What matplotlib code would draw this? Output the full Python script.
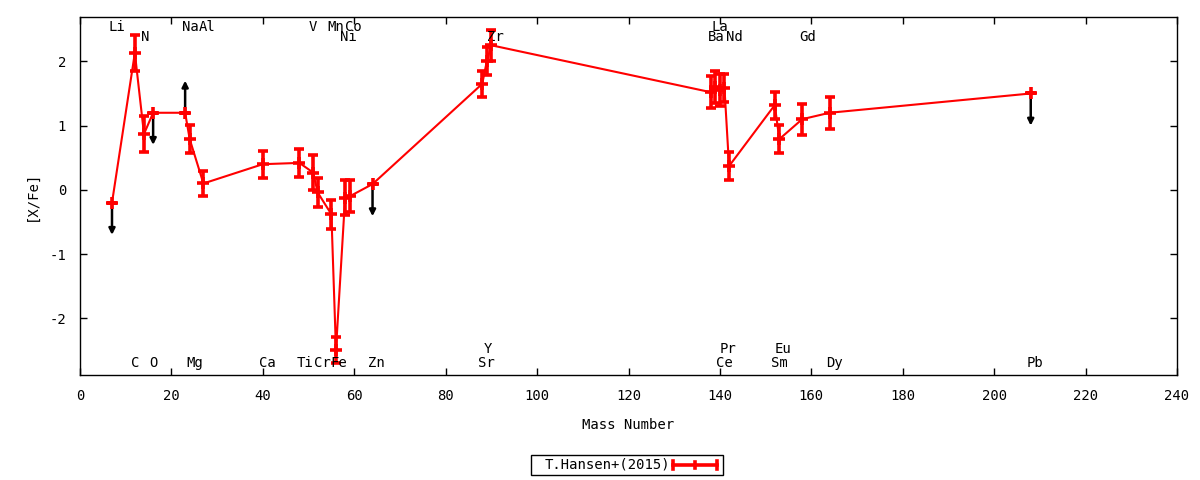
import numpy as np
import matplotlib
matplotlib.use("Agg")
import matplotlib.pyplot as plt
from matplotlib.patches import Rectangle
from matplotlib.lines import Line2D

plt.rcParams["font.family"] = ["DejaVu Sans Mono"]
plt.rcParams["font.size"] = 10
plt.rcParams["axes.unicode_minus"] = False

# abundance pattern, sorted by mass number
elements = ["Li", "C", "N", "O", "Na", "Mg", "Al", "Ca", "Ti", "V", "Cr", "Mn", "Fe",
            "Ni", "Co", "Zn", "Sr", "Y", "Zr", "Ba", "La", "Ce", "Pr", "Nd",
            "Sm", "Eu", "Gd", "Dy", "Pb"]
mass = [7, 12, 14, 16, 23, 24, 27, 40, 48, 51, 52, 55, 56,
        58, 59, 64, 88, 89, 90, 138, 139, 140, 141, 142,
        152, 153, 158, 164, 208]
xfe = [-0.20, 2.13, 0.87, 1.20, 1.20, 0.79, 0.10, 0.40, 0.42, 0.27, -0.04, -0.38, -2.49,
       -0.12, -0.10, 0.09, 1.65, 2.00, 2.25, 1.52, 1.60, 1.55, 1.58, 0.37,
       1.32, 0.79, 1.10, 1.20, 1.50]
xfe_err = [0.0, 0.28, 0.28, 0.0, 0.0, 0.22, 0.20, 0.21, 0.22, 0.27, 0.22, 0.23, 0.20,
           0.27, 0.25, 0.0, 0.20, 0.22, 0.24, 0.25, 0.25, 0.25, 0.22, 0.22,
           0.21, 0.22, 0.24, 0.25, 0.0]
# -1 upper limit, +1 lower limit, 0 detection
limit = [-1, 0, 0, -1, 1, 0, 0, 0, 0, 0, 0, 0, 0,
         0, 0, -1, 0, 0, 0, 0, 0, 0, 0, 0,
         0, 0, 0, 0, -1]
arrow_len = 0.5

# element name labels: x position and row (t1/t2 top, b1/b2 bottom)
label_x = [8.1, 12.1, 14.3, 16.1, 24.1, 25.2, 27.8, 40.9, 49.2, 51.0, 53.1, 56.0, 56.6,
           58.8, 59.7, 64.9, 89.0, 89.2, 90.9, 139.2, 140.1, 140.9, 141.8, 143.1,
           153.0, 153.8, 159.1, 165.0, 208.9]
label_row = ["t1", "b1", "t2", "b1", "t1", "b1", "t1", "b1", "b1", "t1", "b1", "t1", "b1",
             "t2", "t1", "b1", "b1", "b2", "t2", "t2", "t1", "b1", "b2", "t2",
             "b1", "b2", "t2", "b1", "b1"]
row_y = {"t1": 0.972, "t2": 0.944, "b1": 0.034, "b2": 0.073}

fig = plt.figure(figsize=(12, 4.8), dpi=100)
ax = fig.add_axes([80 / 1200, 1 - 375 / 480, 1097 / 1200, 358 / 480])

for m, v, lim in zip(mass, xfe, limit):
    if lim:
        ax.annotate("", xy=(m, v + lim * arrow_len), xytext=(m, v),
                    arrowprops=dict(arrowstyle="-|>", color="black", lw=1.8,
                                    mutation_scale=9, shrinkA=0, shrinkB=0),
                    zorder=2)

ax.errorbar(mass, xfe, yerr=xfe_err, fmt="-", color="#ff0000", lw=1.5,
            elinewidth=2.6, capsize=3.8, capthick=2.6, marker="+",
            markersize=9, mew=2.6, zorder=3)

for name, lx, row in zip(elements, label_x, label_row):
    ax.text(lx, row_y[row], name, transform=ax.get_xaxis_transform(),
            ha="center", va="center", fontsize=10)

ax.set_xlim(0, 240)
ax.set_ylim(-2.88, 2.69)
ax.set_xticks(np.arange(0, 241, 20))
ax.set_yticks([-2, -1, 0, 1, 2])
ax.tick_params(direction="in", length=5, width=1, top=True, right=True,
               labelsize=10, pad=10)
for sp in ax.spines.values():
    sp.set_linewidth(1)
ax.set_xlabel("Mass Number", fontsize=10, labelpad=11)
ax.set_ylabel("[X/Fe]", fontsize=10, labelpad=8)

# gnuplot-style key below the plot
fig.add_artist(Rectangle((531 / 1200, 1 - 475 / 480), 192 / 1200, 20 / 480,
                         transform=fig.transFigure, fill=False, lw=1, ec="black"))
fig.text(545 / 1200, 1 - 465 / 480, "T.Hansen+(2015)", ha="left", va="center",
         fontsize=10)
ky = 1 - 465 / 480
fig.add_artist(Line2D([673 / 1200, 717 / 1200], [ky, ky], color="#ff0000", lw=2.6,
                      transform=fig.transFigure))
for kx, h in [(673, 4), (717, 4), (695, 3)]:
    fig.add_artist(Line2D([kx / 1200, kx / 1200], [ky - h / 480, ky + h / 480],
                          color="#ff0000", lw=2.6, transform=fig.transFigure))

fig.savefig("out.png", dpi=100)
